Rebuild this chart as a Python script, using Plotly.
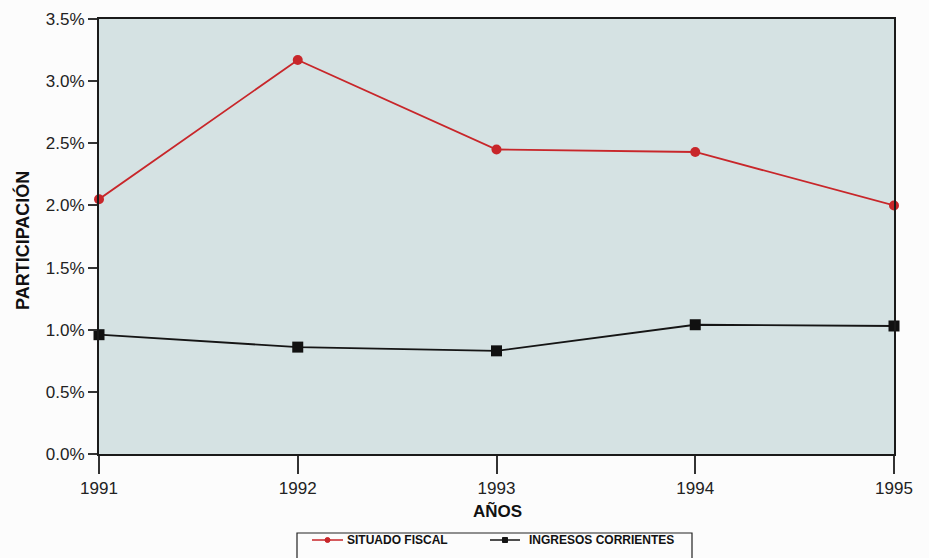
import plotly.graph_objects as go

# Participation by year (percent)
years = [1991, 1992, 1993, 1994, 1995]
situado_fiscal = [2.05, 3.17, 2.45, 2.43, 2.00]
ingresos_corrientes = [0.96, 0.86, 0.83, 1.04, 1.03]
y_ticks = [0.0, 0.5, 1.0, 1.5, 2.0, 2.5, 3.0, 3.5]

series_names = ["SITUADO FISCAL", "INGRESOS CORRIENTES"]
series_colors = ["#c8262a", "#151515"]

FONT = "Liberation Sans, Arial, Helvetica, sans-serif"
W, H = 929, 558
M_L, M_R, M_T, M_B = 99, 35, 19, 104


def px_x(p):
    """Pixel column -> paper x."""
    return (p - M_L) / (W - M_L - M_R)


def px_y(p):
    """Pixel row -> paper y."""
    return (H - M_B - p) / (H - M_T - M_B)


fig = go.Figure()
fig.add_trace(go.Scatter(
    x=years, y=situado_fiscal, name=series_names[0],
    mode="lines+markers",
    line=dict(color=series_colors[0], width=1.8),
    marker=dict(symbol="circle", size=10, color=series_colors[0]),
    cliponaxis=False, showlegend=False,
))
fig.add_trace(go.Scatter(
    x=years, y=ingresos_corrientes, name=series_names[1],
    mode="lines+markers",
    line=dict(color=series_colors[1], width=1.8),
    marker=dict(symbol="square", size=11, color="#111111"),
    cliponaxis=False, showlegend=False,
))

axis_common = dict(
    showgrid=False, zeroline=False,
    showline=True, linecolor="#1a1a1a", linewidth=2, mirror=True,
    tickcolor="#333333", tickwidth=1.5,
    tickfont=dict(size=17, color="#222222"),
    automargin=False,
)

fig.update_layout(
    width=W, height=H,
    margin=dict(l=M_L, r=M_R, t=M_T, b=M_B),
    paper_bgcolor="#fcfcfc",
    plot_bgcolor="#d5e2e3",
    font=dict(family=FONT, size=16, color="#222222"),
    showlegend=False,
    xaxis=dict(
        range=[1991, 1995], tickmode="array", tickvals=years,
        ticktext=[str(y) for y in years],
        ticks="outside", ticklen=18, **axis_common,
    ),
    yaxis=dict(
        range=[0, 3.5], tickmode="array", tickvals=y_ticks,
        ticktext=[f"{v:.1f}%" for v in y_ticks],
        ticks="outside", ticklen=9, **axis_common,
    ),
    # companion axis for the inner half of the y tick marks
    yaxis2=dict(
        range=[0, 3.5], tickmode="array", tickvals=y_ticks,
        overlaying="y", side="left", showticklabels=False,
        ticks="inside", ticklen=6, tickwidth=1.5, tickcolor="#333333",
        showgrid=False, zeroline=False, showline=False,
    ),
)

# Axis titles
fig.add_annotation(
    x=px_x(497), y=px_y(511), xref="paper", yref="paper",
    xanchor="center", yanchor="middle",
    text="<b>AÑOS</b>", showarrow=False,
    font=dict(family=FONT, size=17, color="#111111"),
)
fig.add_annotation(
    x=px_x(22), y=px_y(241), xref="paper", yref="paper",
    xanchor="center", yanchor="middle",
    text="<b>PARTICIPACIÓN</b>", showarrow=False, textangle=-90,
    font=dict(family=FONT, size=18, color="#111111"),
)

# Legend box along the bottom edge
fig.add_shape(
    type="rect", xref="paper", yref="paper",
    x0=px_x(297), x1=px_x(692), y0=px_y(533), y1=px_y(566),
    line=dict(color="#222222", width=1.2), fillcolor="#fcfcfc",
)
legend_y = px_y(540)
legend_items = [
    (312, 343, series_names[0], series_colors[0], 345, "circle"),
    (490, 520, series_names[1], series_colors[1], 527, "rect"),
]
for x0, x1, label, color, tx, glyph in legend_items:
    fig.add_shape(
        type="line", xref="paper", yref="paper",
        x0=px_x(x0), x1=px_x(x1), y0=legend_y, y1=legend_y,
        line=dict(color=color, width=1.5),
    )
    cx = (x0 + x1) / 2
    fig.add_shape(
        type=glyph, xref="paper", yref="paper",
        x0=px_x(cx - 2.5), x1=px_x(cx + 2.5),
        y0=px_y(540 + 2.5), y1=px_y(540 - 2.5),
        line=dict(color=color, width=1), fillcolor=color,
    )
    fig.add_annotation(
        x=px_x(tx), y=legend_y, xref="paper", yref="paper",
        xanchor="left", yanchor="middle", showarrow=False,
        text=f"<b>{label}</b>",
        font=dict(family=FONT, size=12, color="#111111"),
    )

fig.write_html("out.html")
